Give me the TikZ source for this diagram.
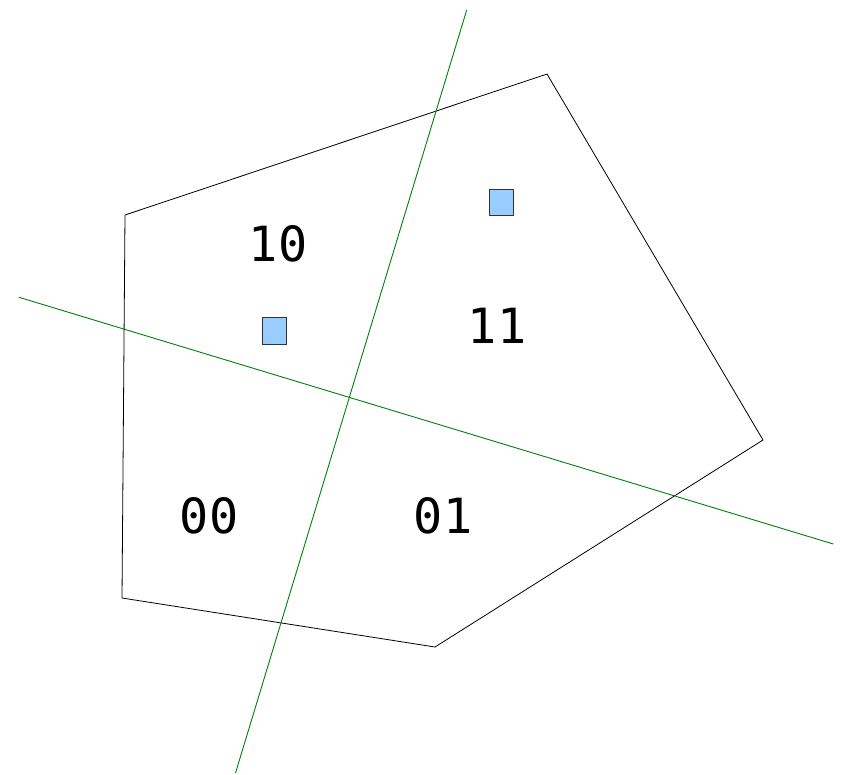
\documentclass[tikz,border=0pt]{standalone}
\usepackage{fontspec}
\newfontfamily\monofont{DejaVu Sans Mono}
\definecolor{sqfill}{RGB}{153,204,255}
\definecolor{lgreen}{RGB}{0,128,0}
\begin{document}
\begin{tikzpicture}[x=1pt,y=-1pt,
  poly/.style={draw=black,line width=0.8pt,line join=miter},
  cut/.style={draw=lgreen,line width=0.9pt},
  sq/.style={draw=black!80,fill=sqfill,line width=0.8pt},
  lab/.style={font=\monofont\fontsize{48.5}{58}\selectfont,anchor=base,inner sep=0pt}]
\useasboundingbox (0,0) rectangle (842,774);
\coordinate (p1) at (125,215);
\coordinate (p2) at (547,74);
\coordinate (p3) at (763,440);
\coordinate (p4) at (435,647);
\coordinate (p5) at (122,598);
\draw[poly] (p1) -- (p2) -- (p3) -- (p4) -- (p5) -- cycle;
\coordinate (a1) at (466.7,10);
\coordinate (a2) at (235.5,773);
\coordinate (b1) at (19,297.3);
\coordinate (b2) at (833.3,544);
\draw[cut] (a1) -- (a2);
\draw[cut] (b1) -- (b2);
\draw[sq] (262.3,317.3) rectangle (286,344.3);
\draw[sq] (489,189) rectangle (513.3,215);
\node[lab] (l10) at (278,261) {10};
\node[lab] (l11) at (497,343) {11};
\node[lab] (l00) at (209,533) {00};
\node[lab] (l01) at (443,533) {01};
\end{tikzpicture}
\end{document}
